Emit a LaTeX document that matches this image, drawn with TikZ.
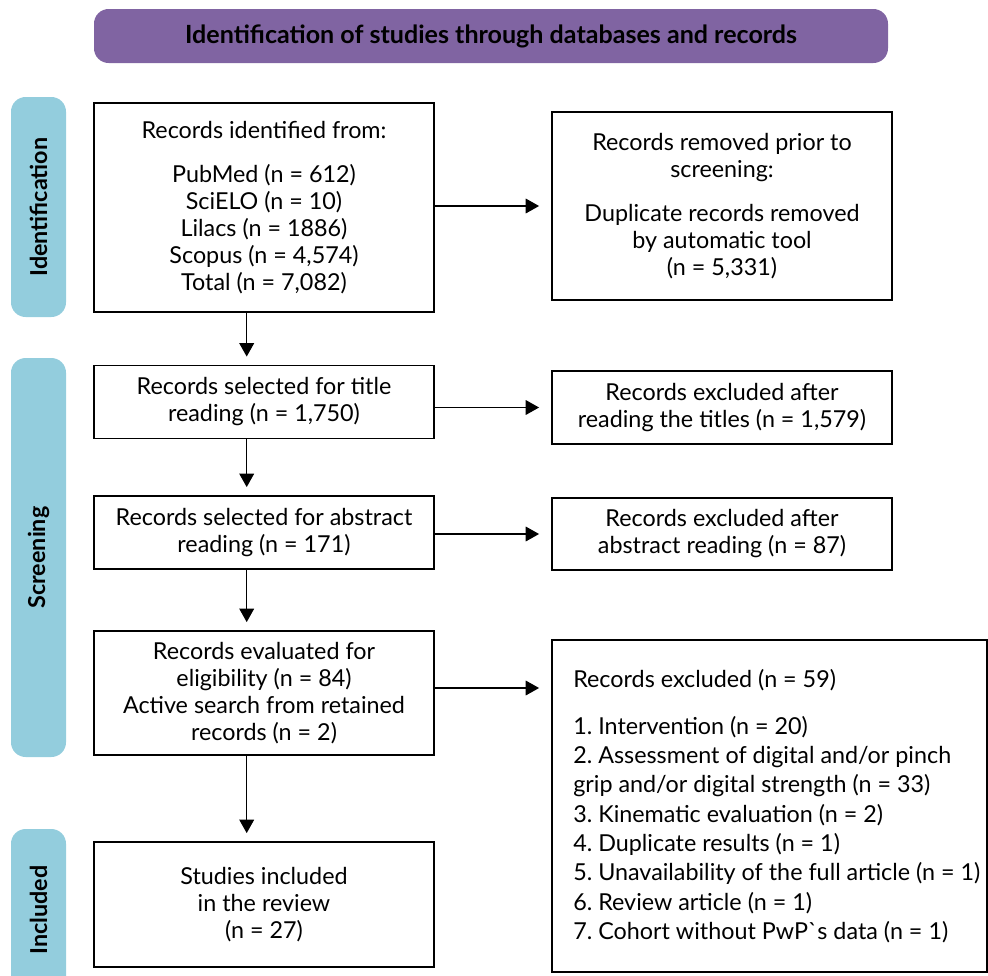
\documentclass[tikz,border=0pt]{standalone}
\usepackage{fontspec}
\setmainfont{Lato}
\usetikzlibrary{arrows.meta}
\definecolor{hdr}{HTML}{8064A2}
\definecolor{side}{HTML}{93CDDD}
\begin{document}
\frenchspacing
\begin{tikzpicture}[x=0.75pt,y=-0.75pt,
  box/.style={draw, line width=1.4pt, align=center, inner sep=0pt,
    font=\fontsize{17.5pt}{20.25pt}\selectfont},
  lab/.style={fill=side, rounded corners=11pt, rotate=90, inner sep=0pt,
    font=\fontsize{17.5pt}{20pt}\selectfont\bfseries},
  arr/.style={line width=0.9pt, -{Triangle[width=11pt,length=10pt]}}]
\useasboundingbox (0,0) rectangle (988,975);

% header
\node[fill=hdr, rounded corners=11pt, minimum width={794*0.75pt}, minimum height={54*0.75pt},
  font=\fontsize{18.8pt}{20pt}\selectfont\bfseries] (hdr) at (491,36)
  {Identification of studies through databases and records};

% side labels
\node[lab, minimum width={220*0.75pt}, minimum height={55*0.75pt}] (lid) at (38.5,207) {Identification};
\node[lab, minimum width={399*0.75pt}, minimum height={55*0.75pt}] (lsc) at (38.5,557.5) {Screening};
\node[lab, minimum width={162*0.75pt}, minimum height={55*0.75pt}] (lin) at (38.5,910) {Included};

% left column
\node[box, minimum width={340*0.75pt}, minimum height={209*0.75pt}] (b1) at (264,207.5)
  {Records identified from:\\[13pt]
   PubMed (n = 612)\\ SciELO (n = 10)\\ Lilacs (n = 1886)\\ Scopus (n = 4,574)\\ Total (n = 7,082)};
\node[box, minimum width={340*0.75pt}, minimum height={73*0.75pt}] (b2) at (264,402)
  {Records selected for title\\ reading (n = 1,750)};
\node[box, minimum width={340*0.75pt}, minimum height={73*0.75pt}] (b3) at (264,532.5)
  {Records selected for abstract\\ reading (n = 171)};
\node[box, minimum width={340*0.75pt}, minimum height={124*0.75pt}] (b4) at (264,693)
  {Records evaluated for\\ eligibility (n = 84)\\ Active search from retained\\ records (n = 2)};
\node[box, minimum width={340*0.75pt}, minimum height={125*0.75pt}] (b5) at (264,904.5)
  {Studies included\\ in the review\\ (n = 27)};

% right column
\node[box, minimum width={340*0.75pt}, minimum height={188*0.75pt}] (r1) at (722,206)
  {Records removed prior to\\ screening:\\[13pt]
   Duplicate records removed\\ by automatic tool\\ (n = 5,331)};
\node[box, minimum width={340*0.75pt}, minimum height={73*0.75pt}] (r2) at (722,407.5)
  {Records excluded after\\ reading the titles (n = 1,579)};
\node[box, minimum width={340*0.75pt}, minimum height={72*0.75pt}] (r3) at (722,534)
  {Records excluded after\\ abstract reading (n = 87)};
\node[draw, line width=1.4pt, minimum width={435*0.75pt}, minimum height={332*0.75pt}] (r4) at (769.5,806) {};
\node[anchor=west, align=left, inner sep=0pt, font=\fontsize{17.5pt}{22pt}\selectfont] (r4t) at (573,806)
  {Records excluded (n = 59)\\[13pt]
   1. Intervention (n = 20)\\
   2. Assessment of digital and/or pinch\\
   grip and/or digital strength (n = 33)\\
   3. Kinematic evaluation (n = 2)\\
   4. Duplicate results (n = 1)\\
   5. Unavailability of the full article (n = 1)\\
   6. Review article (n = 1)\\
   7. Cohort without PwP{\addfontfeatures{Ligatures=TeXOff}`}s data (n = 1)};

% connectors
\coordinate (vx) at (246.7,0);
\draw[arr, shorten >=6pt] (b1.south -| vx) -- (b2.north -| vx);
\draw[arr, shorten >=6pt] (b2.south -| vx) -- (b3.north -| vx);
\draw[arr, shorten >=6pt] (b3.south -| vx) -- (b4.north -| vx);
\draw[arr, shorten >=6pt] (b4.south -| vx) -- (b5.north -| vx);
\draw[arr, shorten >=9pt] (b1.east |- r1.west) -- (r1.west);
\draw[arr, shorten >=9pt] (b2.east |- r2.west) -- (r2.west);
\draw[arr, shorten >=9pt] (b3.east |- r3.west) -- (r3.west);
\coordinate (a4) at (434,688);
\draw[arr, shorten >=9pt] (a4) -- (a4 -| r4.west);
\end{tikzpicture}
\end{document}
